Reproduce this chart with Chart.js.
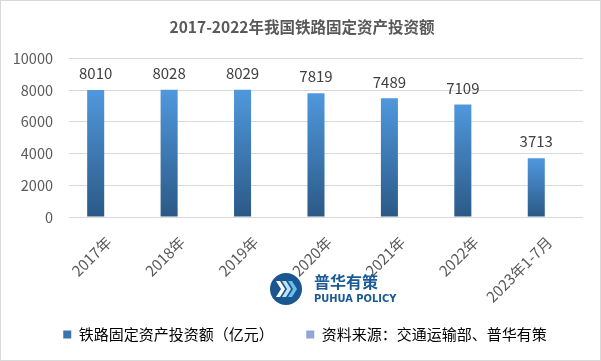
<!DOCTYPE html>
<html>
<head>
<meta charset="utf-8">
<script src="https://cdn.jsdelivr.net/npm/chart.js@4"></script>
<style>
html,body{margin:0;padding:0;background:#fff}
#wrap{width:599px;height:359px;border:1px solid #d9d9d9;position:relative}
</style>
</head>
<body>
<div id="wrap"><canvas id="c" width="599" height="359"></canvas></div>
<script>
const categories=["2017年","2018年","2019年","2020年","2021年","2022年","2023年1-7月"]
const investment=[8010,8028,8029,7819,7489,7109,3713]
const yTicks=[0,2000,4000,6000,8000,10000]

const font="'Noto Sans CJK SC','Noto Sans',sans-serif"

function barGradient(ctx){
const chart=ctx.chart
if(!chart.chartArea||ctx.type!=="data") return "#3f7fc0"
const y=chart.scales.y
const top=y.getPixelForValue(ctx.raw)
const bottom=y.getPixelForValue(0)
const g=chart.ctx.createLinearGradient(0,top,0,bottom)
g.addColorStop(0,"#4f98dd")
g.addColorStop(1,"#2b5986")
return g
}

const labelPlugin={
id:"labels",
afterDatasetsDraw(chart){
const c=chart.ctx
const meta=chart.getDatasetMeta(0)
c.save()
c.font="15px "+font
c.fillStyle="#404040"
c.textAlign="center"
c.textBaseline="bottom"
meta.data.forEach((bar,i)=>{
c.fillText(String(investment[i]),bar.x,bar.y-9)
})
c.restore()
}
}

// title and legend sit a little right of the layout centre in the original
const shiftPlugin={
id:"shift",
afterLayout(chart){
chart.titleBlock.left+=6;chart.titleBlock.right+=6
chart.legend.left+=9;chart.legend.right+=9
}
}

const logoPlugin={
id:"logo",
afterDraw(chart){
const c=chart.ctx
c.save()
c.beginPath()
c.arc(285,288,16,0,Math.PI*2)
c.fillStyle="#1a5791"
c.fill()
const cols=["#ffffff","#bfe3f8","#6cbdf0"]
for(let k=0;k<3;k++){
c.fillStyle=cols[k]
c.beginPath()
const x=275+k*6
c.moveTo(x,280);c.lineTo(x+4,280);c.lineTo(x+9,288);c.lineTo(x+4,296);c.lineTo(x,296);c.lineTo(x+5,288)
c.closePath();c.fill()
}
c.fillStyle="#1a5a96"
c.font="bold 16px "+font
c.textBaseline="middle"
c.textAlign="left"
c.fillText("普华有策",313,281)
c.font="bold 11px 'Liberation Sans Narrow','DejaVu Sans Condensed',sans-serif"
c.fillText("PUHUA POLICY",313,298)
c.restore()
}
}

new Chart(document.getElementById("c"),{
type:"bar",
data:{
labels:categories,
datasets:[
{
label:"铁路固定资产投资额（亿元）",
data:investment,
backgroundColor:barGradient,
barPercentage:0.85,
categoryPercentage:0.546
},
{
label:"资料来源：交通运输部、普华有策",
data:[],
backgroundColor:"#91a6d3",
barPercentage:0.85,
categoryPercentage:0.546
}
]
},
options:{
responsive:false,
animation:false,
layout:{padding:{left:8,right:17,top:0,bottom:8}},
plugins:{
title:{display:true,text:"2017-2022年我国铁路固定资产投资额",color:"#595959",
font:{family:font,size:15.5,weight:"bold"},padding:{top:17,bottom:22}},
legend:{position:"bottom",
labels:{color:"#595959",font:{family:font,size:15},boxWidth:8,boxHeight:8,padding:10,
generateLabels(chart){
return [
{text:"铁路固定资产投资额（亿元）　　",fillStyle:"#3b74ad",strokeStyle:"#3b74ad",lineWidth:0,datasetIndex:0},
{text:"资料来源：交通运输部、普华有策",fillStyle:"#91a6d3",strokeStyle:"#91a6d3",lineWidth:0,datasetIndex:1}
]
}}},
tooltip:{enabled:false}
},
scales:{
x:{grid:{display:false},border:{display:false},
afterFit(axis){axis.height=100},
ticks:{color:"#595959",font:{family:font,size:15},maxRotation:45,minRotation:45,padding:8,labelOffset:3}},
y:{min:0,max:10000,
afterFit(axis){axis.width=60},
afterBuildTicks(axis){axis.ticks=yTicks.map(v=>({value:v}))},
grid:{color:"#d9d9d9",drawTicks:false},border:{display:false},
ticks:{color:"#595959",font:{family:font,size:14.5},padding:16,callback:v=>String(v)}}
}
},
plugins:[labelPlugin,shiftPlugin,logoPlugin]
})
</script>
</body>
</html>
